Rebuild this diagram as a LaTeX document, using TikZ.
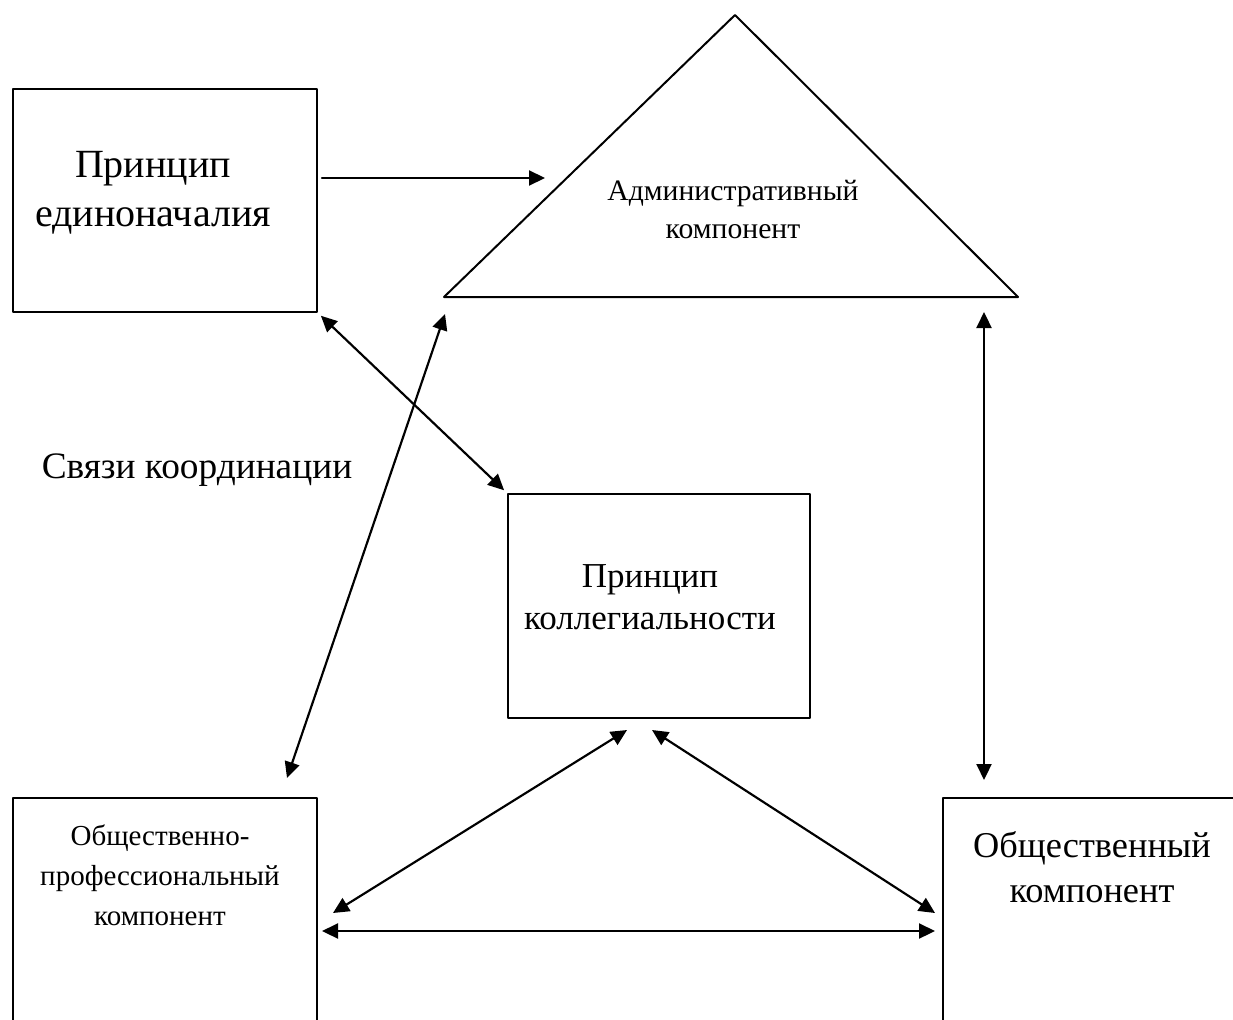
\documentclass[tikz,border=0pt]{standalone}
\usepackage{fontspec}
\setmainfont{Liberation Serif}
\usetikzlibrary{arrows.meta}

\begin{document}
\begin{tikzpicture}[line cap=round,line join=round,>={Triangle[length=4.8pt,width=4.5pt]},x=0.3pt,y=-0.3pt,
  box/.style={draw,line width=0.6pt,inner sep=0pt},
  link/.style={<->,line width=0.65pt,shorten <=4pt*0.3,shorten >=4pt*0.3},
  big/.style={align=center,font=\fontsize{12}{14.7}\selectfont},
  small/.style={align=center,font=\fontsize{8.9}{11.4}\selectfont}]
\useasboundingbox (0,0) rectangle (1233,1019);
% boxes
\node[box,minimum width=304*0.3pt,minimum height=223*0.3pt,anchor=north west] (ed) at (12,88) {};
\node[big] (edtxt) at (153,193) {Принцип\\единоначалия};
\node[box,minimum width=302*0.3pt,minimum height=224*0.3pt,anchor=north west] (kol) at (507,493) {};
\node[small,font=\fontsize{10.5}{12.6}\selectfont] (koltxt) at (650,597) {Принцип\\коллегиальности};
\node[box,minimum width=304*0.3pt,minimum height=266*0.3pt,anchor=north west] (opk) at (12,797) {};
\node[small,font=\fontsize{8.7}{12}\selectfont] (opktxt) at (160,875) {Общественно-\\профессиональный\\компонент};
\node[box,minimum width=320*0.3pt,minimum height=266*0.3pt,anchor=north west] (ok) at (942,797) {};
\node[big,font=\fontsize{10.9}{13.5}\selectfont] (oktxt) at (1092,867) {Общественный\\компонент};
% triangle
\coordinate (apex) at (735,15);
\coordinate (bl) at (444,297);
\coordinate (br) at (1018,297);
\draw[line width=0.6pt] (apex)--(br)--(bl)--cycle;
\node[small] (adm) at (733,209) {Административный\\компонент};
\node[big,font=\fontsize{11.2}{13}\selectfont] (svyazi) at (197,470) {Связи координации};
% links
\coordinate (a1) at (545,178);
\draw[->,line width=0.65pt,shorten <=1.2pt] (ed.east |- a1) -- (a1);
\draw[link] (ed.south east) -- (kol.north west);
\coordinate (a2) at (445,314);
\coordinate (a3) at (287,778);
\draw[<->,line width=0.65pt] (a2) -- (a3);
\coordinate (a4) at (984,312);
\coordinate (a5) at (984,780);
\draw[<->,line width=0.65pt] (a4) -- (a5);
\coordinate (k1) at (627,730);
\coordinate (k2) at (652,730);
\coordinate (o1) at (333,913);
\coordinate (o2) at (935,913);
\draw[<->,line width=0.65pt] (k1) -- (o1);
\draw[<->,line width=0.65pt] (k2) -- (o2);
\draw[link,shorten >=7pt*0.3] (opk.east) -- (ok.west);
\end{tikzpicture}
\end{document}
